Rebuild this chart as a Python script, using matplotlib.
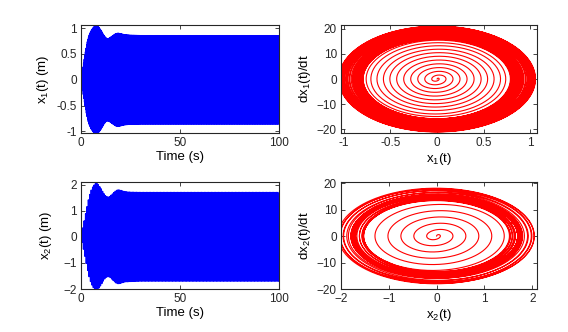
import numpy as np
import matplotlib.pyplot as plt

plt.rcParams['font.family'] = ['Liberation Sans', 'DejaVu Sans']
plt.rcParams['mathtext.default'] = 'regular'

# envelope of the oscillation
env_t = [0, 1, 2, 3, 3.5, 4, 5, 6, 7, 7.7, 8.5, 10, 11.5, 12.5, 13.6, 14.5, 16, 17.5, 18.7, 20, 22, 25, 30, 100]
env_x1 = [0, 0.24, 0.48, 0.70, 0.78, 0.85, 0.94, 1.0, 1.04, 1.055, 1.04, 0.96, 0.86, 0.81, 0.79, 0.81, 0.85, 0.89, 0.90, 0.89, 0.87, 0.86, 0.855, 0.855]
env_x2 = [0, 0.38, 0.76, 1.14, 1.33, 1.5, 1.76, 1.92, 2.02, 2.06, 2.02, 1.86, 1.66, 1.56, 1.52, 1.54, 1.65, 1.76, 1.80, 1.78, 1.73, 1.71, 1.70, 1.70]

# oscillation frequencies (rad/s), from velocity / displacement ratio
w1 = 20.0
w2 = 8.8

t = np.arange(0, 100, 0.002)
x1 = np.interp(t, env_t, env_x1) * np.sin(w1 * t)
x2 = np.interp(t, env_t, env_x2) * np.sin(w2 * t)
v1 = np.gradient(x1, t)
v2 = np.gradient(x2, t)

fig = plt.figure(figsize=(5.68, 3.32), dpi=100)
W, H = 568, 332


def make_ax(left, top, right, bottom):
    ax = fig.add_axes([left / W, 1 - bottom / H, (right - left) / W, (bottom - top) / H])
    ax.tick_params(direction='in', top=True, right=True, length=3, width=0.6,
                   labelsize=8.5, colors='#262626', pad=3)
    for s in ax.spines.values():
        s.set_linewidth(0.8)
        s.set_color('#262626')
    return ax


ax1 = make_ax(81, 25, 279, 133)
ax1.plot(t, x1, color='blue', lw=1.0)
ax1.set_xlim(0, 100)
ax1.set_ylim(-1.03, 1.06)
ax1.set_xticks([0, 50, 100])
ax1.set_yticks([-1, -0.5, 0, 0.5, 1])
ax1.set_yticklabels(['-1', '-0.5', '0', '0.5', '1'])
ax1.set_xlabel('Time (s)', fontsize=9.5, labelpad=1)
ax1.set_ylabel('x$_1$(t) (m)', fontsize=9.5, labelpad=4)

ax2 = make_ax(341, 25, 537, 133)
ax2.plot(x1, v1, color='red', lw=0.8)
ax2.set_xlim(-1.03, 1.07)
ax2.set_ylim(-21.5, 21.5)
ax2.set_xticks([-1, -0.5, 0, 0.5, 1])
ax2.set_xticklabels(['-1', '-0.5', '0', '0.5', '1'])
ax2.set_yticks([-20, -10, 0, 10, 20])
ax2.set_xlabel('x$_1$(t)', fontsize=9.5, labelpad=1)
ax2.set_ylabel('dx$_1$(t)/dt', fontsize=9.5, labelpad=3)

ax3 = make_ax(81, 182, 279, 289)
ax3.plot(t, x2, color='blue', lw=1.0)
ax3.set_xlim(0, 100)
ax3.set_ylim(-2.0, 2.1)
ax3.set_xticks([0, 50, 100])
ax3.set_yticks([-2, -1, 0, 1, 2])
ax3.set_xlabel('Time (s)', fontsize=9.5, labelpad=1)
ax3.set_ylabel('x$_2$(t) (m)', fontsize=9.5, labelpad=7)

ax4 = make_ax(341, 182, 537, 289)
ax4.plot(x2, v2, color='red', lw=0.8)
ax4.set_xlim(-2.0, 2.1)
ax4.set_ylim(-20, 20.4)
ax4.set_xticks([-2, -1, 0, 1, 2])
ax4.set_yticks([-20, -10, 0, 10, 20])
ax4.set_xlabel('x$_2$(t)', fontsize=9.5, labelpad=1)
ax4.set_ylabel('dx$_2$(t)/dt', fontsize=9.5, labelpad=3)

fig.savefig('out.png', dpi=100)
